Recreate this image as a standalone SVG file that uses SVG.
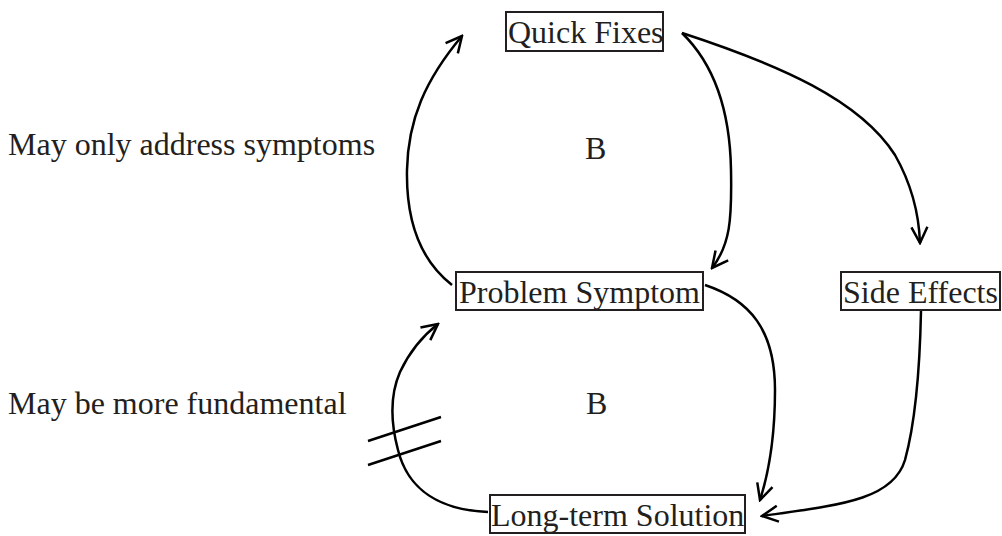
<svg xmlns="http://www.w3.org/2000/svg" width="1002" height="536" viewBox="0 0 1002 536">
<defs>
<style>
text{font-family:"Liberation Serif","Times New Roman",serif;font-size:32px;fill:#231f20}
.box{fill:none;stroke:#231f20;stroke-width:2}
.c{fill:none;stroke:#000;stroke-width:2.5}
</style>
<marker id="ah" viewBox="0 0 20 20" refX="18" refY="10" markerWidth="20" markerHeight="20" markerUnits="userSpaceOnUse" orient="auto">
<path d="M2,2 L18,10 L2,18" fill="none" stroke="#000" stroke-width="2.5"/>
</marker>
</defs>
<rect width="1002" height="536" fill="#fff"/>
<g id="quick-fixes"><rect class="box" x="506" y="12" width="157" height="39"/><text x="508" y="43">Quick Fixes</text></g>
<g id="problem-symptom"><rect class="box" x="456" y="272" width="247" height="38"/><text x="459" y="303">Problem Symptom</text></g>
<g id="side-effects"><rect class="box" x="841" y="272" width="159" height="38"/><text x="843" y="303">Side Effects</text></g>
<g id="long-term-solution"><rect class="box" x="490" y="495" width="255" height="38"/><text x="491" y="526">Long-term Solution</text></g>
<g id="labels">
<text x="8" y="155">May only address symptoms</text>
<text x="8" y="414">May be more fundamental</text>
<text x="585" y="159">B</text>
<text x="586" y="414">B</text>
</g>
<g id="connectors">
<path class="c" marker-end="url(#ah)" d="M452,285 C420,260 406,220 407,170 C408,120 425,80 462,36"/>
<path class="c" marker-end="url(#ah)" d="M682,33 C715,65 730,110 731,170 C732,220 730,245 712,268"/>
<path class="c" marker-end="url(#ah)" d="M682,33 C780,65 860,100 895,155 C912,185 919,215 920,243"/>
<path class="c" marker-end="url(#ah)" d="M705,285 C750,300 775,330 775,390 C775,440 768,475 760,500"/>
<path class="c" marker-end="url(#ah)" d="M921,311 C920,360 916,420 905,460 C893,500 840,505 762,516"/>
<path class="c" marker-end="url(#ah)" d="M488,512 C440,510 408,490 398,450 C390,420 390,395 400,372 C408,355 420,338 438,324"/>
<path class="c" d="M368,441 L441,417 M368,465 L441,441"/>
</g>
</svg>
